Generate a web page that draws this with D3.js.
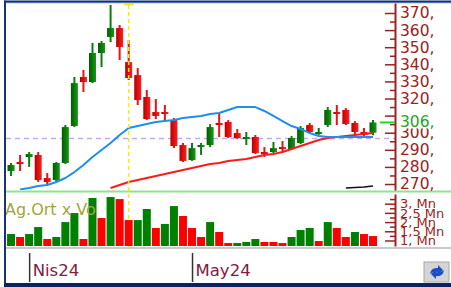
<!DOCTYPE html>
<html>
<head>
<meta charset="utf-8">
<script src="https://cdn.jsdelivr.net/npm/d3@7"></script>
<style>
  html, body { margin: 0; padding: 0; background: #fff; overflow: hidden; }
  svg { display: block; font-family: "DejaVu Sans", Verdana, sans-serif; }
</style>
</head>
<body>
<svg id="chart" width="451" height="287"></svg>
<script>
// daily candles (index 0 is the partly hidden one at the left edge)
const opens  = [276.5, 277.6, 282.9, 285.8, 287.0, 273.5, 272.3, 282.3, 303.9, 332.6, 329.6, 346.6, 356.0, 361.2,
                341.3, 333.7, 320.9, 312.1, 312.1, 307.4, 292.8, 284.0, 291.6, 292.8, 305.7, 306.3, 299.8, 296.3,
                297.5, 288.7, 288.7, 291.6, 290.5, 294.0, 304.5, 299.8, 304.5, 312.1, 313.3, 305.7, 300.4, 300.0];
const highs  = [277.5, 282.3, 287.0, 288.7, 288.7, 276.4, 282.9, 304.5, 332.6, 336.7, 352.5, 353.6, 374.7, 363.0,
                354.2, 337.8, 325.0, 319.7, 316.2, 308.6, 294.0, 294.0, 294.0, 305.0, 311.5, 307.4, 302.2, 300.4,
                298.7, 291.6, 294.6, 295.1, 298.1, 303.9, 305.7, 302.8, 315.0, 316.2, 314.4, 306.8, 302.8, 307.4];
const lows   = [275.5, 274.7, 277.6, 280.0, 271.2, 269.4, 271.2, 281.7, 303.3, 323.8, 329.0, 338.4, 353.0, 342.5,
                330.8, 316.2, 307.4, 308.0, 307.4, 291.0, 282.9, 283.5, 287.0, 291.6, 297.5, 296.9, 296.3, 292.8,
                287.5, 285.8, 288.1, 288.7, 289.9, 293.4, 299.8, 298.7, 303.3, 304.5, 304.5, 298.7, 297.5, 298.5];
const closes = [275.8, 281.1, 281.7, 287.5, 272.3, 271.2, 282.3, 303.3, 329.0, 329.6, 346.6, 352.5, 361.2, 350.1,
                332.0, 319.1, 308.0, 309.8, 311.0, 292.2, 283.5, 291.0, 292.8, 303.3, 304.5, 297.5, 296.9, 297.5,
                288.1, 287.5, 291.0, 290.5, 296.9, 302.8, 300.4, 300.4, 313.3, 311.0, 305.1, 300.4, 298.7, 306.0];

// moving averages (null = not yet defined)
const maShort = [null, null, 266.8, 267.7, 268.8, 269.4, 271.2, 273.5, 277.0, 281.1, 285.8, 289.9, 294.0, 298.7,
                 302.8, 303.9, 305.1, 306.3, 306.8, 307.4, 308.6, 309.2, 309.8, 311.0, 311.5, 313.3, 315.0, 315.0,
                 315.0, 312.7, 309.8, 306.8, 303.9, 302.2, 299.8, 298.1, 297.5, 297.5, 297.5, 297.5, 297.5, 297.5];
const maLong  = [null, null, null, null, null, null, null, null, null, null, null, null, 267.7, 269.4,
                 271.2, 272.3, 273.5, 274.7, 275.8, 277.0, 278.2, 279.4, 280.5, 281.7, 282.3, 283.5, 284.0, 284.6,
                 285.8, 287.0, 287.5, 288.7, 290.5, 292.2, 294.0, 295.7, 296.9, 297.5, 298.1, 298.7, 299.2, 299.8];
const maSlow  = [null, null, null, null, null, null, null, null, null, null, null, null, null, null,
                 null, null, null, null, null, null, null, null, null, null, null, null, null, null,
                 null, null, null, null, null, null, null, null, null, null, 267.7, 268.0, 268.2, 268.8];

// volume in millions and bar colour (1 = green, 0 = red)
const volumes = [1.13, 1.35, 1.19, 1.35, 1.73, 1.08, 1.19, 2.0, 2.49, 1.08, 3.31, 2.22, 3.36, 3.25,
                 2.11, 2.11, 2.71, 1.68, 1.90, 2.87, 2.33, 1.68, 1.19, 2.0, 1.46, 0.86, 0.86, 0.92,
                 1.08, 0.92, 0.92, 0.86, 1.19, 1.57, 1.68, 0.97, 2.0, 1.68, 1.19, 1.46, 1.35, 1.24];
const volUp   = [0, 1, 0, 1, 1, 0, 1, 1, 1, 0, 1, 0, 1, 0,
                 0, 1, 1, 0, 1, 1, 0, 0, 0, 1, 0, 0, 1, 1,
                 1, 0, 0, 0, 1, 1, 1, 0, 1, 0, 0, 1, 0, 0];

const priceTicks = d3.range(270, 371, 10);
const priceLabels = [270, 280, 290, 300, 320, 330, 340, 350, 360, 370]; // 310 sits under the last-price tag
const lastPrice = 306;
const refLevel = 296.6;
const markerIndex = 14;
const volTicks = [1, 1.5, 2, 2.5, 3];
const monthTicks = [[3, 'Nis24'], [21, 'May24']];

const svg = d3.select('#chart');
const axisX = 395;

const x = d3.scaleLinear().domain([0, 41]).range([2, 373]);
const y = d3.scaleLinear().domain([266.5, 375.85]).range([190, 3]);
const yVol = d3.scaleLinear().domain([0.7, 3.526]).range([246, 194]);

const defs = svg.append('defs');
defs.append('clipPath').attr('id', 'pane').append('rect')
  .attr('x', 6).attr('y', 3).attr('width', axisX - 6).attr('height', 187);
defs.append('clipPath').attr('id', 'vpane').append('rect')
  .attr('x', 6).attr('y', 194).attr('width', axisX - 6).attr('height', 53);

function grad(id, c0, c1) {
  const g = defs.append('linearGradient').attr('id', id);
  g.append('stop').attr('offset', '0%').attr('stop-color', c0);
  g.append('stop').attr('offset', '100%').attr('stop-color', c1);
}
grad('gUp', '#005c00', '#159a15');
grad('gDn', '#b80000', '#ff2020');

// pane separators
svg.append('rect').attr('x', 5).attr('y', 190.5).attr('width', 446).attr('height', 2).attr('fill', '#8fe48f');
svg.append('rect').attr('x', 5).attr('y', 247).attr('width', 446).attr('height', 2).attr('fill', '#c9c9c9');

// price pane
const pane = svg.append('g').attr('clip-path', 'url(#pane)');

pane.append('line')
  .attr('x1', 6).attr('x2', axisX)
  .attr('y1', y(refLevel)).attr('y2', y(refLevel))
  .attr('stroke', '#c6a8f2').attr('stroke-width', 1.5).attr('stroke-dasharray', '5,4');

// yellow marker line
svg.append('line')
  .attr('x1', x(markerIndex)).attr('x2', x(markerIndex))
  .attr('y1', 5).attr('y2', 247)
  .attr('stroke', '#f4ee10').attr('stroke-width', 1.5).attr('stroke-dasharray', '4,3');
svg.append('line')
  .attr('x1', x(markerIndex) - 5).attr('x2', x(markerIndex) + 5)
  .attr('y1', 4.5).attr('y2', 4.5)
  .attr('stroke', '#f4ee10').attr('stroke-width', 2);

const candles = opens.map((o, i) => ({ i, o, h: highs[i], l: lows[i], c: closes[i] }));

const cg = pane.append('g').selectAll('g').data(candles).join('g');
cg.append('line')
  .attr('x1', d => x(d.i)).attr('x2', d => x(d.i))
  .attr('y1', d => y(d.h)).attr('y2', d => y(d.l))
  .attr('stroke', d => d.c >= d.o ? '#0b7d0b' : '#e81414')
  .attr('stroke-width', 2);
cg.append('rect')
  .attr('x', d => x(d.i) - 3.5)
  .attr('width', 7)
  .attr('y', d => y(Math.max(d.o, d.c)))
  .attr('height', d => Math.max(2, Math.abs(y(d.o) - y(d.c))))
  .attr('fill', d => d.c >= d.o ? 'url(#gUp)' : 'url(#gDn)');

function drawMa(values, color, width) {
  const line = d3.line()
    .defined(d => d != null)
    .x((d, i) => x(i))
    .y(d => y(d));
  pane.append('path')
    .attr('d', line(values))
    .attr('fill', 'none')
    .attr('stroke', color)
    .attr('stroke-width', width)
    .attr('stroke-linejoin', 'round');
}
drawMa(maLong, '#ff1a1a', 2);
drawMa(maShort, '#1e8ff0', 2);
drawMa(maSlow, '#111', 1.5);

// price axis
const majG = svg.append('g').attr('transform', `translate(${axisX},0)`)
  .call(d3.axisLeft(y).tickValues(priceTicks).tickSize(10).tickSizeOuter(0).tickFormat(''));
const minG = svg.append('g').attr('transform', `translate(${axisX},0)`)
  .call(d3.axisLeft(y).tickValues(d3.range(275, 375, 10)).tickSize(5).tickSizeOuter(0).tickFormat(''));
minG.select('.domain').remove();
const labG = svg.append('g').attr('transform', `translate(${axisX},0)`)
  .call(d3.axisRight(y).tickValues(priceLabels).tickSize(0).tickPadding(5).tickFormat(d => d + ','));
labG.select('.domain').remove();
labG.selectAll('text').attr('font-size', 15.5).attr('font-family', '"DejaVu Sans", Verdana, sans-serif')
  .attr('fill', '#9b2222');
[majG, minG].forEach(g => {
  g.selectAll('line').attr('stroke', '#9b2222').attr('stroke-width', 1.5);
  g.select('.domain').attr('stroke', '#9b2222').attr('stroke-width', 2);
});

// last price marker
svg.append('rect').attr('x', 398).attr('y', y(lastPrice) - 9).attr('width', 50).attr('height', 15).attr('fill', '#fff');
svg.append('line')
  .attr('x1', 380).attr('x2', axisX)
  .attr('y1', y(lastPrice)).attr('y2', y(lastPrice))
  .attr('stroke', '#17e017').attr('stroke-width', 2);
svg.append('text')
  .attr('x', 400).attr('y', y(lastPrice)).attr('dy', '0.32em')
  .attr('font-size', 15.5).attr('fill', '#22a522')
  .text(lastPrice + ',');

// volume pane
const vpane = svg.append('g').attr('clip-path', 'url(#vpane)');
vpane.append('g').selectAll('rect').data(volumes).join('rect')
  .attr('x', (d, i) => x(i) - 4)
  .attr('width', 8)
  .attr('y', d => yVol(d))
  .attr('height', d => 246 - yVol(d))
  .attr('fill', (d, i) => volUp[i] ? '#008000' : '#ff0000');

svg.append('text')
  .attr('x', 5).attr('y', 215)
  .attr('font-size', 16).attr('fill', '#a4a43a')
  .text('Ag.Ort x Vo');

const vMaj = svg.append('g').attr('transform', `translate(${axisX},0)`)
  .call(d3.axisLeft(yVol).tickValues(volTicks).tickSize(10).tickSizeOuter(0).tickFormat(''));
const vMin = svg.append('g').attr('transform', `translate(${axisX},0)`)
  .call(d3.axisLeft(yVol).tickValues([1.25, 1.75, 2.25, 2.75, 3.25]).tickSize(5).tickSizeOuter(0).tickFormat(''));
vMin.select('.domain').remove();
[vMaj, vMin].forEach(g => {
  g.selectAll('line').attr('stroke', '#9b2222').attr('stroke-width', 1.5);
  g.select('.domain').attr('stroke', '#9b2222').attr('stroke-width', 2);
});
const vLab = svg.append('g').attr('transform', `translate(${axisX},0)`)
  .call(d3.axisRight(yVol).tickValues(volTicks).tickSize(0).tickPadding(5)
    .tickFormat(d => (Number.isInteger(d) ? d + ',' : String(d).replace('.', ',')) + ' Mn'));
vLab.select('.domain').remove();
vLab.selectAll('text').attr('font-size', 13).attr('font-family', '"DejaVu Sans", Verdana, sans-serif')
  .attr('fill', '#9b2222');

// date axis
const dG = svg.append('g').attr('transform', 'translate(0,253)')
  .call(d3.axisBottom(x).tickValues(monthTicks.map(d => d[0])).tickSize(29).tickSizeOuter(0)
    .tickFormat(d => monthTicks.find(m => m[0] === d)[1]));
dG.select('.domain').remove();
dG.selectAll('line').attr('stroke', '#333').attr('stroke-width', 1.5);
dG.selectAll('text')
  .attr('text-anchor', 'start').attr('x', 3).attr('y', 23).attr('dy', 0)
  .attr('font-size', 16.5).attr('font-family', '"DejaVu Sans", Verdana, sans-serif')
  .attr('fill', '#7e2040');

// refresh icon
const ic = svg.append('g');
ic.append('rect').attr('x', 424).attr('y', 262).attr('width', 25).attr('height', 20)
  .attr('fill', '#d5d5d5').attr('stroke', '#a5a5a5');
ic.append('path').attr('d', 'M430,274 q1,-7 8,-6 l0,-3 l5,5 l-5,5 l0,-3 q-5,-1 -8,2z').attr('fill', '#1d4fc4');
ic.append('path').attr('d', 'M444,270 q-1,7 -8,6 l0,3 l-5,-5 l5,-5 l0,3 q5,1 8,-2z').attr('fill', '#1d4fc4');

// frame
svg.append('rect').attr('x', 4).attr('y', 0.5).attr('width', 447).attr('height', 1.5).attr('fill', '#132f6c');
svg.append('rect').attr('x', 4).attr('y', 2).attr('width', 447).attr('height', 1.2).attr('fill', '#4a70b8');
svg.append('rect').attr('x', 4).attr('y', 0.5).attr('width', 2).attr('height', 286).attr('fill', '#1a3570');
svg.append('rect').attr('x', 4).attr('y', 283).attr('width', 447).attr('height', 4).attr('fill', '#0c2160');
</script>
</body>
</html>
